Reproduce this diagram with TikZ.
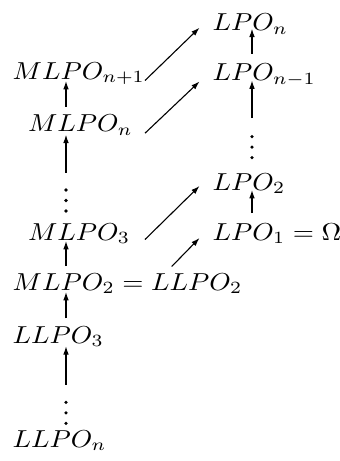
\documentclass[tikz,border=0pt]{standalone}
\usepackage{graphicx}
\usetikzlibrary{arrows.meta,calc}
\tikzset{
  lbl/.style={anchor=base west, inner sep=0pt, outer sep=0pt},
  dotc/.style={circle, fill=black, inner sep=0pt, minimum size=1.45pt},
  ar/.style={-{Latex[length=3.4pt,width=2.3pt]}, line width=0.45pt},
}
\newcommand\wdtxt[1]{\scalebox{1.11}[1]{$#1$}}
\begin{document}
\begin{tikzpicture}[x=0.408pt,y=-0.408pt]
\useasboundingbox (0,0) rectangle (339,461);
\coordinate (cL) at (66,0);
\coordinate (cR) at (252,0);
\coordinate (cS) at (145,0);
\coordinate (cT) at (199.5,0);
\node[lbl] (lpn) at (212.7,30.7) {\wdtxt{LPO_n}};
\node[lbl] (mn1) at (12.7,79) {\wdtxt{MLPO_{n+1}}};
\node[lbl] (lpn1) at (212.7,80.5) {\wdtxt{LPO_{n-1}}};
\node[lbl] (mn) at (28,131.7) {\wdtxt{MLPO_n}};
% right vertical dots
\node[dotc] (dRa) at (252,136.7) {};
\node[dotc] (dRb) at (252,147.2) {};
\node[dotc] (dRc) at (252,157.7) {};
\node[lbl] (lp2) at (212.7,190) {\wdtxt{LPO_2}};
% left upper dots
\node[dotc] (dLa) at (66,190) {};
\node[dotc] (dLb) at (66,200.5) {};
\node[dotc] (dLc) at (66,211) {};
\node[lbl] (m3) at (28,240) {\wdtxt{MLPO_3}};
\node[lbl] (lp1) at (212.7,240) {\wdtxt{LPO_1 = \Omega}};
\node[lbl] (m2) at (12.7,290) {\wdtxt{MLPO_2 = LLPO_2}};
\node[lbl] (l3) at (12.7,343.3) {\wdtxt{LLPO_3}};
% left lower dots
\node[dotc] (dMa) at (66,402.3) {};
\node[dotc] (dMb) at (66,412.8) {};
\node[dotc] (dMc) at (66,423.3) {};
\node[lbl] (ln) at (12.7,447.3) {\wdtxt{LLPO_n}};
% left column
\draw[ar] ($(mn.base -| cL)+(0,-25)$) -- ($(mn1.base -| cL)+(0,2)$);
\draw[ar] ($(dLa)+(0,-17.5)$) -- ($(mn.base -| cL)+(0,3)$);
\draw[ar] ($(m2.base -| cL)+(0,-24)$) -- ($(m3.base -| cL)+(0,1)$);
\draw[ar] ($(l3.base -| cL)+(0,-25)$) -- ($(m2.base -| cL)+(0,2)$);
\draw[ar] ($(dMa)+(0,-17.5)$) -- ($(l3.base -| cL)+(0,3)$);
% right column
\draw[ar] ($(lpn1.base -| cR)+(0,-27)$) -- ($(lpn.base -| cR)+(0,-2)$);
\draw[ar] ($(dRa)+(0,-18.5)$) -- (lpn1.base -| cR);
\draw[ar] ($(lp1.base -| cR)+(0,-27)$) -- (lp2.base -| cR);
% diagonals
\draw[ar] ($(mn1.base -| cS)+(0,1.5)$) -- ($(lpn.base -| cT)+(0,-3)$);
\draw[ar] ($(mn.base -| cS)+(0,1.5)$) -- ($(lpn1.base -| cT)+(0,1)$);
\draw[ar] ($(m3.base -| cS)+(0,-0.5)$) -- ($(lp2.base -| cT)+(0,-4)$);
\draw[ar] ($(m2.base west)+(159,-23.5)$) -- ($(lp1.base -| cT)+(0,-2)$);
\end{tikzpicture}
\end{document}
